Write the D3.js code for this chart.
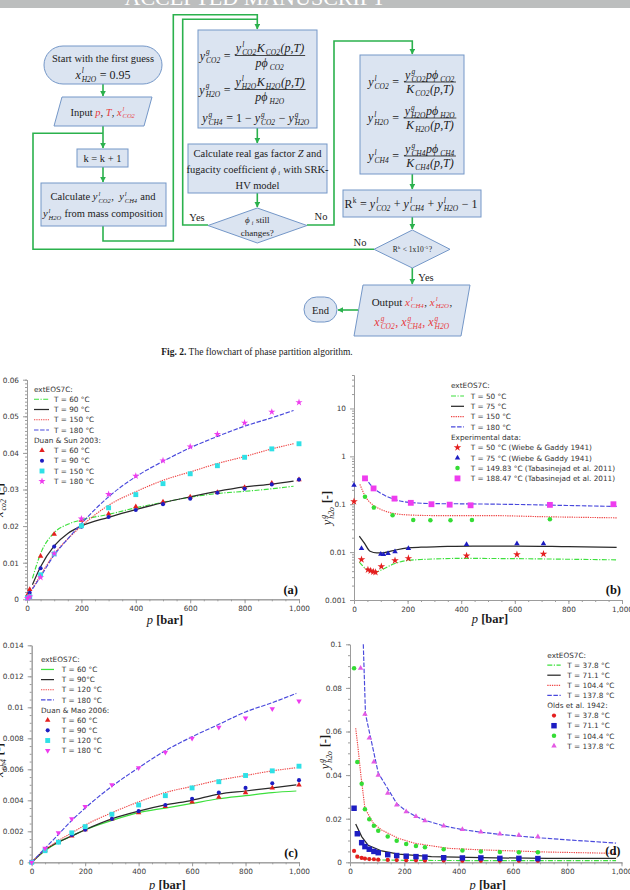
<!DOCTYPE html>
<html>
<head>
<meta charset="utf-8">
<script src="https://cdn.jsdelivr.net/npm/d3@7"></script>
<style>
  html, body { margin: 0; padding: 0; background: #fff; }
  svg { display: block; }
  svg text { white-space: pre; }
</style>
</head>
<body>
<svg id="page" width="630" height="890"></svg>
<script>
// ---------- data ----------

// panel (a): x_CO2 in liquid vs pressure
const aModelP   = [20, 50, 100, 150, 200, 300, 400, 500, 600, 700, 800, 900, 980];
const aModel60  = [0.0057, 0.0125, 0.0182, 0.0205, 0.0217, 0.0232, 0.0250, 0.0265, 0.0279, 0.0289, 0.0295, 0.0302, 0.0309];
const aModel90  = [0.0040, 0.0089, 0.0146, 0.0180, 0.0200, 0.0224, 0.0245, 0.0264, 0.0280, 0.0295, 0.0307, 0.0315, 0.0323];
const aModel150 = [0.0030, 0.0066, 0.0124, 0.0165, 0.0200, 0.0257, 0.0294, 0.0325, 0.0348, 0.0371, 0.0390, 0.0411, 0.0425];
const aModel180 = [0.0028, 0.0062, 0.0121, 0.0165, 0.0207, 0.0280, 0.0335, 0.0377, 0.0414, 0.0445, 0.0473, 0.0496, 0.0516];
const aExpP     = [2, 10, 50, 100, 200, 300, 400, 500, 600, 700, 800, 900, 1000];
const aExp60    = [0.0012, 0.0027, 0.0118, 0.0178, 0.0216, 0.0233, 0.0253, 0.0266, 0.0280, 0.0292, 0.0306, 0.0317, 0.0327];
const aExp90    = [0.0007, 0.0018, 0.0085, 0.0144, 0.0198, 0.0225, 0.0244, 0.0260, 0.0275, 0.0291, 0.0302, 0.0314, 0.0327];
const aExp150   = [0.0004, 0.0007, 0.0067, 0.0124, 0.0201, 0.0250, 0.0286, 0.0316, 0.0343, 0.0365, 0.0388, 0.0411, 0.0425];
const aExp180   = [0.0003, 0.0007, 0.0060, 0.0125, 0.0220, 0.0287, 0.0337, 0.0379, 0.0417, 0.0451, 0.0482, 0.0512, 0.0538];
const aLineLabels = ["T = 60 °C", "T = 90 °C", "T = 150 °C", "T = 180 °C"];
const aMarkLabels = ["T = 60 °C", "T = 90 °C", "T = 150 °C", "T = 180 °C"];
const aTicksY = [0, 0.01, 0.02, 0.03, 0.04, 0.05, 0.06];

// panel (b): y_H2O in gas, log scale
const bModel50P  = [20, 40, 60, 80, 100, 150, 200, 250, 300, 400, 600, 800, 980];
const bModel50   = [0.0062, 0.0047, 0.0040, 0.0038, 0.0042, 0.0057, 0.0067, 0.0070, 0.0072, 0.0074, 0.0073, 0.0071, 0.0069];
const bModel75P  = [20, 40, 60, 85, 110, 134, 160, 200, 250, 320, 444, 600, 800, 980];
const bModel75   = [0.0215, 0.0150, 0.0104, 0.0096, 0.0097, 0.0104, 0.0112, 0.0122, 0.0127, 0.0130, 0.0134, 0.0134, 0.0130, 0.0126];
const bModel150P = [22, 41, 72, 100, 134, 196, 300, 500, 700, 980];
const bModel150  = [0.26, 0.15, 0.095, 0.078, 0.067, 0.060, 0.058, 0.058, 0.055, 0.052];
const bModel180P = [41, 72, 100, 134, 196, 300, 400, 600, 800, 980];
const bModel180  = [0.37, 0.22, 0.17, 0.136, 0.111, 0.103, 0.102, 0.099, 0.094, 0.090];
const bWiebe50P  = [0, 28, 52, 62, 72, 80, 102, 153, 203, 420, 608, 707];
const bWiebe50   = [0.114, 0.0070, 0.0043, 0.0041, 0.0039, 0.0038, 0.0050, 0.0067, 0.0074, 0.0084, 0.0089, 0.0091];
const bWiebe75P  = [0, 28, 100, 110, 127, 153, 203, 420, 608, 707];
const bWiebe75   = [0.25, 0.0119, 0.0091, 0.0089, 0.0094, 0.0102, 0.0120, 0.0144, 0.0151, 0.0151];
const bTab150P   = [41, 74, 144, 221, 285, 360, 440, 731];
const bTab150    = [0.143, 0.085, 0.0586, 0.0468, 0.0465, 0.0465, 0.0468, 0.0483];
const bTab188P   = [41, 73, 151, 212, 289, 357, 435, 731, 968];
const bTab188    = [0.347, 0.214, 0.131, 0.107, 0.100, 0.098, 0.095, 0.097, 0.100];
const bLineLabels = ["T = 50 °C", "T = 75 °C", "T = 150 °C", "T = 180 °C"];
const bMarkLabels = ["T = 50 °C (Wiebe & Gaddy 1941)", "T = 75 °C (Wiebe & Gaddy 1941)",
                     "T = 149.83 °C (Tabasinejad et al. 2011)", "T = 188.47 °C (Tabasinejad et al. 2011)"];
const bTicksY = [0.001, 0.01, 0.1, 1, 10];

// panel (c): x_CH4 in liquid
const cModelP   = [0, 50, 100, 150, 200, 300, 400, 500, 600, 700, 800, 900, 990];
const cModel60  = [0, 0.00075, 0.0013, 0.0017, 0.0021, 0.0027, 0.0032, 0.0035, 0.0038, 0.0041, 0.0043, 0.0045, 0.0046];
const cModel90  = [0, 0.0008, 0.0013, 0.0017, 0.0021, 0.0028, 0.0033, 0.0037, 0.0040, 0.0044, 0.0046, 0.0048, 0.0050];
const cModel120 = [0, 0.0008, 0.0014, 0.0019, 0.0024, 0.0032, 0.0039, 0.0045, 0.0049, 0.0053, 0.0056, 0.0059, 0.0061];
const cModel180 = [0, 0.0009, 0.0018, 0.0027, 0.0035, 0.0049, 0.0061, 0.0072, 0.0081, 0.0089, 0.0097, 0.0103, 0.0109];
const cExpP     = [0, 50, 100, 150, 200, 300, 400, 500, 600, 700, 800, 900, 1000];
const cExp60    = [0, 0.0008, 0.0013, 0.0017, 0.0021, 0.0028, 0.0032, 0.0036, 0.0039, 0.0042, 0.0045, 0.0048, 0.0050];
const cExp90    = [0, 0.0008, 0.0013, 0.00176, 0.0021, 0.0028, 0.0033, 0.0037, 0.0041, 0.0045, 0.0048, 0.0051, 0.0053];
const cExp120   = [0, 0.00075, 0.0013, 0.0019, 0.0023, 0.0031, 0.0037, 0.0043, 0.0048, 0.0052, 0.0056, 0.0059, 0.0062];
const cExp180   = [0, 0.0009, 0.0019, 0.0028, 0.0036, 0.0050, 0.0061, 0.0071, 0.0080, 0.0087, 0.0093, 0.0099, 0.0104];
const cLineLabels = ["T = 60 °C", "T = 90°C", "T = 120 °C", "T = 180 °C"];
const cMarkLabels = ["T = 60 °C", "T = 90 °C", "T = 120 °C", "T = 180 °C"];
const cTicksY = [0, 0.002, 0.004, 0.006, 0.008, 0.01, 0.012, 0.014];

// panel (d): y_H2O in gas, Olds et al. 1942
const dModel37P  = [21, 40, 60, 100, 200, 400, 700, 980];
const dModel37   = [0.0034, 0.0020, 0.0015, 0.0011, 0.0009, 0.0008, 0.0008, 0.0008];
const dModel71P  = [21, 43, 67, 117, 178, 300, 485, 730, 980];
const dModel71   = [0.0176, 0.0118, 0.0078, 0.0052, 0.0037, 0.0026, 0.0021, 0.0018, 0.0018];
const dModel104P = [21, 30, 40, 55, 86, 117, 178, 239, 362, 485, 730, 980];
const dModel104  = [0.0615, 0.052, 0.040, 0.0248, 0.0179, 0.0148, 0.011, 0.0087, 0.0064, 0.0057, 0.0047, 0.0041];
const dModel137P = [49, 57, 104, 172, 207, 243, 276, 345, 414, 482, 552, 622, 692, 800, 900, 980];
const dModel137  = [0.1, 0.068, 0.041, 0.027, 0.0235, 0.021, 0.0193, 0.0167, 0.015, 0.0138, 0.0128, 0.012, 0.0113, 0.0103, 0.0095, 0.0088];
const dOldsP     = [15, 27, 43, 55, 71, 88, 104, 139, 172, 207, 243, 276, 345, 414, 482, 552, 622, 692];
const dOlds37    = [0.0052, 0.0026, 0.0020, 0.0017, 0.0015, 0.0014, 0.0012, 0.0011, 0.0010, 0.0009, 0.0009, 0.0008, 0.0008, 0.0007, 0.0007, 0.0007, 0.0007, 0.0007];
const dOlds71    = [0.0248, 0.0131, 0.0090, 0.0072, 0.0060, 0.0050, 0.0044, 0.0035, 0.0031, 0.0028, 0.0026, 0.0024, 0.0021, 0.0020, 0.0020, 0.0018, 0.0018, 0.0017];
const dOlds104   = [0.089, 0.046, 0.036, 0.0243, 0.0197, 0.0168, 0.0145, 0.0118, 0.0099, 0.0084, 0.0075, 0.0069, 0.0060, 0.0054, 0.0049, 0.0047, 0.0046, 0.0046];
const dOlds137P  = [39, 55, 71, 88, 104, 139, 172, 207, 243, 276, 345, 414, 482, 552, 622, 692];
const dOlds137   = [0.089, 0.068, 0.057, 0.046, 0.040, 0.0317, 0.0263, 0.0232, 0.021, 0.0191, 0.0167, 0.0151, 0.0139, 0.013, 0.0124, 0.0118];
const dLabels = ["T = 37.8 °C", "T = 71.1 °C", "T = 104.4 °C", "T = 137.8 °C"];
const dTicksY = [0, 0.02, 0.04, 0.06, 0.08, 0.1];

const pressTicks = [0, 200, 400, 600, 800, 1000];

// ---------- look ----------
const SERIF = "'Liberation Serif','Times New Roman',serif";
const SANS  = "'DejaVu Sans',Verdana,sans-serif";
const LINK  = "#2bb14d";
const BOX_FILL = "#dbe4f1", BOX_LINE = "#7497c8";
const RED_TXT = "#e83a3c";
const AXIS_GREY = "#9c9c9c";

const C = {
  green: "#3de03d", black: "#2a2a2a", red: "#ee4444", blue: "#4848dc",
  mRed: "#e41f1f", mNavy: "#1d1dc2", mCyan: "#2fe0e6", mMag: "#ee3cee", mGreen: "#35dc35", mPink: "#e45ae4"
};
const STYLE = {
  dashdot: "5,1.5,1.2,1.5", dotted: "1.3,1", dashed: "4.5,1.6", solid: null
};

const svg = d3.select("#page");

// ---------- rich text (sub/superscripts) ----------
const M = (t, sup, sub, c) => ({ t, sup, sub, i: true, c });
const T = (t, c) => ({ t, c });

function rich(parent, x, y, tokens, size, anchor = "middle") {
  const g = parent.append("g");
  let cur = 0;
  tokens.forEach(tk => {
    const fill = tk.c || "#1b1b1b";
    let w = 0;
    if (tk.t) {
      const el = g.append("text").attr("x", cur).attr("y", 0)
        .attr("font-family", SERIF).attr("font-size", size)
        .attr("font-style", tk.i ? "italic" : "normal")
        .attr("font-weight", tk.b ? "bold" : "normal")
        .attr("fill", fill).text(tk.t);
      w = el.node().getComputedTextLength();
    }
    // italic glyphs lean right (phi most of all), leave room before scripts
    const gap = tk.i ? (tk.t && tk.t.includes("ϕ") ? 2 : 1) : 0.3;
    let extra = 0;
    [["sup", -0.42], ["sub", 0.26]].forEach(([k, dy]) => {
      if (!tk[k]) return;
      const s = g.append("text").attr("x", cur + w + gap).attr("y", size * dy)
        .attr("font-family", SERIF).attr("font-size", size * 0.62)
        .attr("font-style", tk.i ? "italic" : "normal")
        .attr("fill", fill).text(tk[k]);
      extra = Math.max(extra, s.node().getComputedTextLength() + gap + 0.6);
    });
    cur += w + extra;
  });
  const off = anchor === "middle" ? -cur / 2 : anchor === "end" ? -cur : 0;
  g.attr("transform", `translate(${x + off},${y})`);
  return cur;
}

function frac(parent, cx, yBar, num, den, size) {
  const w1 = rich(parent, cx, yBar - 3.2, num, size);
  const w2 = rich(parent, cx, yBar + 11, den, size);
  const w = Math.max(w1, w2) + 2;
  parent.append("line")
    .attr("x1", cx - w / 2).attr("x2", cx + w / 2)
    .attr("y1", yBar).attr("y2", yBar)
    .attr("stroke", "#1b1b1b").attr("stroke-width", 0.8);
}

// ---------- page header ----------
svg.append("rect").attr("x", 0).attr("y", 0).attr("width", 630).attr("height", 8).attr("fill", "#bcbebe");
svg.append("text").attr("x", 255).attr("y", 5).attr("text-anchor", "middle")
  .attr("font-family", SERIF).attr("font-size", 22).attr("fill", "#fff")
  .text("ACCEPTED MANUSCRIPT");

// ---------- flowchart ----------
const defs = svg.append("defs");
defs.append("marker").attr("id", "arr").attr("viewBox", "0 0 10 10")
  .attr("refX", 9).attr("refY", 5).attr("markerWidth", 6).attr("markerHeight", 6)
  .attr("markerUnits", "userSpaceOnUse").attr("orient", "auto")
  .append("path").attr("d", "M0,0L10,5L0,10Z").attr("fill", LINK);

const fc = svg.append("g");

const links = [
  { pts: [[103, 84], [103, 96]], arrow: true },
  { pts: [[103, 126], [103, 148]], arrow: true },
  { pts: [[374, 249.3], [33, 249.3], [33, 133.3], [103, 133.3]] },
  { pts: [[103, 167], [103, 182]], arrow: true },
  { pts: [[103, 226], [103, 241], [173.3, 241], [173.3, 14.7], [257.3, 14.7], [257.3, 29]], arrow: true },
  { pts: [[208, 225], [182.7, 225], [182.7, 19.3], [257.3, 19.3]] },
  { pts: [[257.3, 128], [257.3, 143]], arrow: true },
  { pts: [[257.3, 193], [257.3, 207]], arrow: true },
  { pts: [[307, 225], [334, 225], [334, 41], [412.3, 41], [412.3, 54]], arrow: true },
  { pts: [[412.3, 174], [412.3, 189]], arrow: true },
  { pts: [[412.3, 217], [412.3, 229]], arrow: true },
  { pts: [[412.3, 268], [412.3, 284]], arrow: true },
  { pts: [[358, 310], [338, 310]], arrow: true }
];
links.forEach(l => {
  fc.append("path").attr("d", d3.line()(l.pts)).attr("fill", "none")
    .attr("stroke", LINK).attr("stroke-width", 1.6)
    .attr("marker-end", l.arrow ? "url(#arr)" : null);
});

const shape = sel => sel.attr("fill", BOX_FILL).attr("stroke", BOX_LINE).attr("stroke-width", 1);
const rect = (x, y, w, h, r = 0) => fc.append("rect").attr("x", x).attr("y", y).attr("width", w).attr("height", h).attr("rx", r).call(shape);
const poly = pts => fc.append("polygon").attr("points", pts.map(p => p.join(",")).join(" ")).call(shape);

rect(44, 46, 118, 38, 19);
poly([[62, 97], [152, 97], [144, 126], [54, 126]]);
rect(77, 149, 51, 18);
rect(41, 183, 125, 43);
rect(198, 30, 119, 98);
rect(188, 144, 139, 49);
poly([[257.3, 208], [307, 225.5], [257.3, 243], [208, 225.5]]);
rect(360, 55, 104, 119);
rect(343, 190, 138, 27);
poly([[412.3, 230], [450, 249.3], [412.3, 268], [374, 249.3]]);
poly([[363, 285], [470, 285], [461, 336], [354, 336]]);
rect(304, 297, 33, 25, 12.5);

const FS = 10.5, EQ = 12;
rich(fc, 103, 61.5, [T("Start with the first guess")], FS);
rich(fc, 103, 78.5, [M("x", "l", "H2O"), T(" = 0.95")], EQ);
rich(fc, 103, 115.5, [T("Input "), M("p", null, null, RED_TXT), T(", "), M("T", null, null, RED_TXT), T(", "), M("x", "l", "CO2", RED_TXT)], FS);
rich(fc, 102.5, 161.5, [T("k = k + 1")], FS);
rich(fc, 103, 200, [T("Calculate "), M("y", "l", "CO2"), T(",  "), M("y", "l", "CH4"), T(" and")], FS);
rich(fc, 103, 217, [M("y", "l", "H2O"), T(" from mass composition")], FS);

// box 2 equations
rich(fc, 230.5, 59.5, [M("y", "g", "CO2"), T(" =")], EQ, "end");
frac(fc, 270, 55.5, [M("y", "l", "CO2"), M("K", null, "CO2"), M("(p,T)")], [M("pϕ", null, "CO2")], EQ);
rich(fc, 230.5, 93.5, [M("y", "g", "H2O"), T(" =")], EQ, "end");
frac(fc, 270, 89.5, [M("y", "l", "H2O"), M("K", null, "H2O"), M("(p,T)")], [M("pϕ", null, "H2O")], EQ);
rich(fc, 256, 122, [M("y", "g", "CH4"), T(" = 1 − "), M("y", "g", "CO2"), T(" − "), M("y", "g", "H2O")], EQ);

// box 3
rich(fc, 257.5, 156.5, [T("Calculate real gas factor "), M("Z"), T(" and")], FS);
rich(fc, 257.5, 172.5, [T("fugacity coefficient "), M("ϕ", null, "i"), T(" with SRK-")], FS);
rich(fc, 257.5, 188.5, [T("HV model")], FS);

// decision 1
rich(fc, 257.3, 222.5, [M("ϕ", null, "i"), T(" still")], 9);
rich(fc, 257.3, 235.5, [T("changes?")], 9);
rich(fc, 197, 220.5, [T("Yes")], FS);
rich(fc, 321, 220, [T("No")], FS);

// box 4 equations
[[82, "CO2"], [118, "H2O"], [156, "CH4"]].forEach(([bar, sp]) => {
  rich(fc, 399, bar + 4, [M("y", "l", sp), T(" =")], EQ, "end");
  frac(fc, 430, bar, [M("y", "g", sp), M("pϕ", null, sp)], [M("K", null, sp), M("(p,T)")], EQ);
});

rich(fc, 411, 208, [{ t: "R", sup: "k" }, T(" = "), M("y", "l", "CO2"), T(" + "), M("y", "l", "CH4"), T(" + "), M("y", "l", "H2O"), T(" − 1")], EQ);
rich(fc, 412.3, 251.8, [{ t: "R", sup: "k" }, { t: " < 1x10", sup: "-5" }, T("?")], 7.5);
rich(fc, 360, 245.5, [T("No")], FS);
rich(fc, 426, 280.5, [T("Yes")], FS);

rich(fc, 412, 305.5, [T("Output "), M("x", "l", "CH4", RED_TXT), T(", "), M("x", "l", "H2O", RED_TXT), T(",")], FS + 0.5);
rich(fc, 412, 326, [M("x", "g", "CO2", RED_TXT), T(", ", RED_TXT), M("x", "g", "CH4", RED_TXT), T(", ", RED_TXT), M("x", "g", "H2O", RED_TXT)], EQ);
rich(fc, 320.5, 313.5, [T("End")], FS);

rich(fc, 257, 354.5, [{ t: "Fig. 2.", b: true }, T(" The flowchart of phase partition algorithm.")], 9.5);

// ---------- chart panels ----------
const zip = (p, v) => p.map((d, i) => [d, v[i]]);
const numFmt = d => d === 0 ? "0" : String(+d.toFixed(6));

function sym(type, size, rot) {
  return { type, size, rot: rot || 0 };
}

function drawPanel(P) {
  const g = svg.append("g");
  const x = d3.scaleLinear().domain([0, 1000]).range([P.left, P.right]);
  const y = (P.log ? d3.scaleLog() : d3.scaleLinear()).domain(P.yDomain).range([P.bottom, P.top]);

  const styleAxis = s => {
    s.select(".domain").attr("stroke", AXIS_GREY);
    s.selectAll(".tick line").attr("stroke", AXIS_GREY);
    s.selectAll(".tick text").attr("fill", "#3a3a3a").attr("font-family", SANS).attr("font-size", 7.3);
  };
  g.append("g").attr("transform", `translate(0,${P.bottom})`)
    .call(d3.axisBottom(x).tickValues(d3.range(0, 1001, 50)).tickSize(2).tickSizeOuter(0).tickFormat(""))
    .call(styleAxis);
  g.append("g").attr("transform", `translate(0,${P.bottom})`)
    .call(d3.axisBottom(x).tickValues(pressTicks).tickSize(4).tickSizeOuter(0).tickPadding(3).tickFormat(d3.format(",")))
    .call(styleAxis);
  g.append("g").attr("transform", `translate(${P.left},0)`)
    .call(d3.axisLeft(y).tickValues(P.yMinor).tickSize(2).tickSizeOuter(0).tickFormat(""))
    .call(styleAxis);
  g.append("g").attr("transform", `translate(${P.left},0)`)
    .call(d3.axisLeft(y).tickValues(P.yTicks).tickSize(4).tickSizeOuter(0).tickPadding(4).tickFormat(P.yFmt || numFmt))
    .call(styleAxis);

  // model curves
  P.lines.forEach(s => {
    g.append("path")
      .attr("d", d3.line().x(d => x(d[0])).y(d => y(d[1])).curve(P.curve)(s.data))
      .attr("fill", "none").attr("stroke", s.color).attr("stroke-width", s.dash ? 1.15 : 1.25)
      .attr("stroke-dasharray", s.dash);
  });

  // experimental points
  P.marks.forEach(s => {
    g.append("g").selectAll("path").data(s.data).join("path")
      .attr("d", d3.symbol().type(s.sym.type).size(s.sym.size))
      .attr("transform", d => `translate(${x(d[0])},${y(d[1])}) rotate(${s.sym.rot})`)
      .attr("fill", s.color);
  });

  // legend
  const L = P.legend;
  const txt = (xx, yy, t) => g.append("text").attr("x", xx).attr("y", yy + 2.7)
    .attr("font-family", SANS).attr("font-size", 7.3).attr("fill", "#333").text(t);
  txt(L.x, L.y0, L.head1);
  P.lines.forEach((s, i) => {
    const yy = L.y0 + L.dy * (i + 1);
    g.append("line").attr("x1", L.x).attr("x2", L.lineEnd).attr("y1", yy).attr("y2", yy)
      .attr("stroke", s.color).attr("stroke-width", s.dash ? 1.15 : 1.25).attr("stroke-dasharray", s.dash);
    txt(L.textX, yy, s.label);
  });
  txt(L.x, L.y0 + L.dy * 5, L.head2);
  P.marks.forEach((s, i) => {
    const yy = L.y0 + L.dy * (i + 6);
    g.append("path").attr("d", d3.symbol().type(s.sym.type).size(s.sym.size))
      .attr("transform", `translate(${L.markX},${yy}) rotate(${s.sym.rot})`).attr("fill", s.color);
    txt(L.textX, yy, s.label);
  });

  // panel tag and axis titles
  g.append("text").attr("x", P.right - 1).attr("y", P.tagY).attr("text-anchor", "end")
    .attr("font-family", SERIF).attr("font-size", 12.5).attr("font-weight", "bold").attr("fill", "#111")
    .text(P.tag);
  rich(g, (P.left + P.right) / 2 + 2, P.xTitleY, [M("p"), { t: " [bar]", b: true }], 12.5);
  const yt = g.append("g").attr("transform", `translate(${P.yTitle[0]},${P.yTitle[1]}) rotate(-90)`);
  rich(yt, 0, 0, [M(P.yVar[0], P.yVar[1], P.yVar[2]), { t: " [-]", b: true }], 12.5);
}

const linMinor = (max, step) => d3.range(0, max + step / 2, step);
const logMinor = [0.001, 0.01, 0.1, 1, 10].flatMap(dec => d3.range(2, 10).map(k => +(k * dec).toPrecision(3))).filter(v => v <= 50);

drawPanel({
  left: 27, right: 299, top: 379.7, bottom: 599.3, yDomain: [0, 0.06],
  yTicks: aTicksY, yMinor: linMinor(0.06, 0.001), curve: d3.curveMonotoneX,
  lines: [
    { data: zip(aModelP, aModel60),  color: C.green, dash: STYLE.dashdot, label: aLineLabels[0] },
    { data: zip(aModelP, aModel90),  color: C.black, dash: STYLE.solid,   label: aLineLabels[1] },
    { data: zip(aModelP, aModel150), color: C.red,   dash: STYLE.dotted,  label: aLineLabels[2] },
    { data: zip(aModelP, aModel180), color: C.blue,  dash: STYLE.dashed,  label: aLineLabels[3] }
  ],
  marks: [
    { data: zip(aExpP, aExp60),  color: C.mRed,  sym: sym(d3.symbolTriangle, 13), label: aMarkLabels[0] },
    { data: zip(aExpP, aExp90),  color: C.mNavy, sym: sym(d3.symbolCircle, 13),   label: aMarkLabels[1] },
    { data: zip(aExpP, aExp150), color: C.mCyan, sym: sym(d3.symbolSquare, 24),   label: aMarkLabels[2] },
    { data: zip(aExpP, aExp180), color: C.mMag,  sym: sym(d3.symbolStar, 16),     label: aMarkLabels[3] }
  ],
  legend: { x: 34, lineEnd: 49, markX: 42, textX: 54, y0: 389, dy: 10.25, head1: "extEOS7C:", head2: "Duan & Sun 2003:" },
  tag: "(a)", tagY: 594, xTitleY: 624, yTitle: [2.5, 500], yVar: ["x", "l", "co2"]
});

drawPanel({
  left: 354, right: 622, top: 375, bottom: 600, yDomain: [0.001, 50], log: true,
  yTicks: bTicksY, yMinor: logMinor, yFmt: d => String(d), curve: d3.curveMonotoneX,
  lines: [
    { data: zip(bModel50P, bModel50),   color: C.green, dash: STYLE.dashdot, label: bLineLabels[0] },
    { data: zip(bModel75P, bModel75),   color: C.black, dash: STYLE.solid,   label: bLineLabels[1] },
    { data: zip(bModel150P, bModel150), color: C.red,   dash: STYLE.dotted,  label: bLineLabels[2] },
    { data: zip(bModel180P, bModel180), color: C.blue,  dash: STYLE.dashed,  label: bLineLabels[3] }
  ],
  marks: [
    { data: zip(bWiebe50P, bWiebe50), color: C.mRed,   sym: sym(d3.symbolStar, 18),     label: bMarkLabels[0] },
    { data: zip(bWiebe75P, bWiebe75), color: C.mNavy,  sym: sym(d3.symbolTriangle, 13), label: bMarkLabels[1] },
    { data: zip(bTab150P, bTab150),   color: C.mGreen, sym: sym(d3.symbolCircle, 16),   label: bMarkLabels[2] },
    { data: zip(bTab188P, bTab188),   color: C.mMag,   sym: sym(d3.symbolSquare, 34),   label: bMarkLabels[3] }
  ],
  legend: { x: 451, lineEnd: 464, markX: 457.5, textX: 470.7, y0: 385.7, dy: 10.3, head1: "extEOS7C:", head2: "Experimental data:" },
  tag: "(b)", tagY: 594, xTitleY: 623, yTitle: [331, 508], yVar: ["y", "g", "h2o"]
});

drawPanel({
  left: 31.7, right: 299, top: 645.3, bottom: 862.3, yDomain: [0, 0.014],
  yTicks: cTicksY, yMinor: linMinor(0.014, 0.0005), curve: d3.curveMonotoneX,
  lines: [
    { data: zip(cModelP, cModel60),  color: C.green, dash: STYLE.solid,  label: cLineLabels[0] },
    { data: zip(cModelP, cModel90),  color: C.black, dash: STYLE.solid,  label: cLineLabels[1] },
    { data: zip(cModelP, cModel120), color: C.red,   dash: STYLE.dotted, label: cLineLabels[2] },
    { data: zip(cModelP, cModel180), color: C.blue,  dash: STYLE.dashed, label: cLineLabels[3] }
  ],
  marks: [
    { data: zip(cExpP, cExp60),  color: C.mRed,  sym: sym(d3.symbolTriangle, 13), label: cMarkLabels[0] },
    { data: zip(cExpP, cExp90),  color: C.mNavy, sym: sym(d3.symbolCircle, 13),   label: cMarkLabels[1] },
    { data: zip(cExpP, cExp120), color: C.mCyan, sym: sym(d3.symbolSquare, 24),   label: cMarkLabels[2] },
    { data: zip(cExpP, cExp180), color: C.mMag,  sym: sym(d3.symbolTriangle, 13, 180), label: cMarkLabels[3] }
  ],
  legend: { x: 41, lineEnd: 54, markX: 47.7, textX: 61.7, y0: 659.3, dy: 10.15, head1: "extEOS7C:", head2: "Duan & Mao 2006:" },
  tag: "(c)", tagY: 856.5, xTitleY: 889, yTitle: [2.5, 760], yVar: ["x", "l", "ch4"]
});

drawPanel({
  left: 350, right: 621.5, top: 644.3, bottom: 862.3, yDomain: [0, 0.1],
  yTicks: dTicksY, yMinor: linMinor(0.1, 0.005), curve: d3.curveLinear,
  lines: [
    { data: zip(dModel37P, dModel37),   color: C.green, dash: STYLE.dashdot, label: dLabels[0] },
    { data: zip(dModel71P, dModel71),   color: C.black, dash: STYLE.solid,   label: dLabels[1] },
    { data: zip(dModel104P, dModel104), color: C.red,   dash: STYLE.dotted,  label: dLabels[2] },
    { data: zip(dModel137P, dModel137), color: C.blue,  dash: STYLE.dashed,  label: dLabels[3] }
  ],
  marks: [
    { data: zip(dOldsP, dOlds37),     color: C.mRed,   sym: sym(d3.symbolCircle, 14),   label: dLabels[0] },
    { data: zip(dOldsP, dOlds71),     color: C.mNavy,  sym: sym(d3.symbolSquare, 30),   label: dLabels[1] },
    { data: zip(dOldsP, dOlds104),    color: C.mGreen, sym: sym(d3.symbolCircle, 16),   label: dLabels[2] },
    { data: zip(dOlds137P, dOlds137), color: C.mPink,  sym: sym(d3.symbolTriangle, 13), label: dLabels[3] }
  ],
  legend: { x: 547.3, lineEnd: 560.7, markX: 554, textX: 567.3, y0: 655, dy: 10.1, head1: "extEOS7C:", head2: "Olds et al. 1942:" },
  tag: "(d)", tagY: 855, xTitleY: 889, yTitle: [329, 752], yVar: ["y", "g", "h2o"]
});
</script>
</body>
</html>
